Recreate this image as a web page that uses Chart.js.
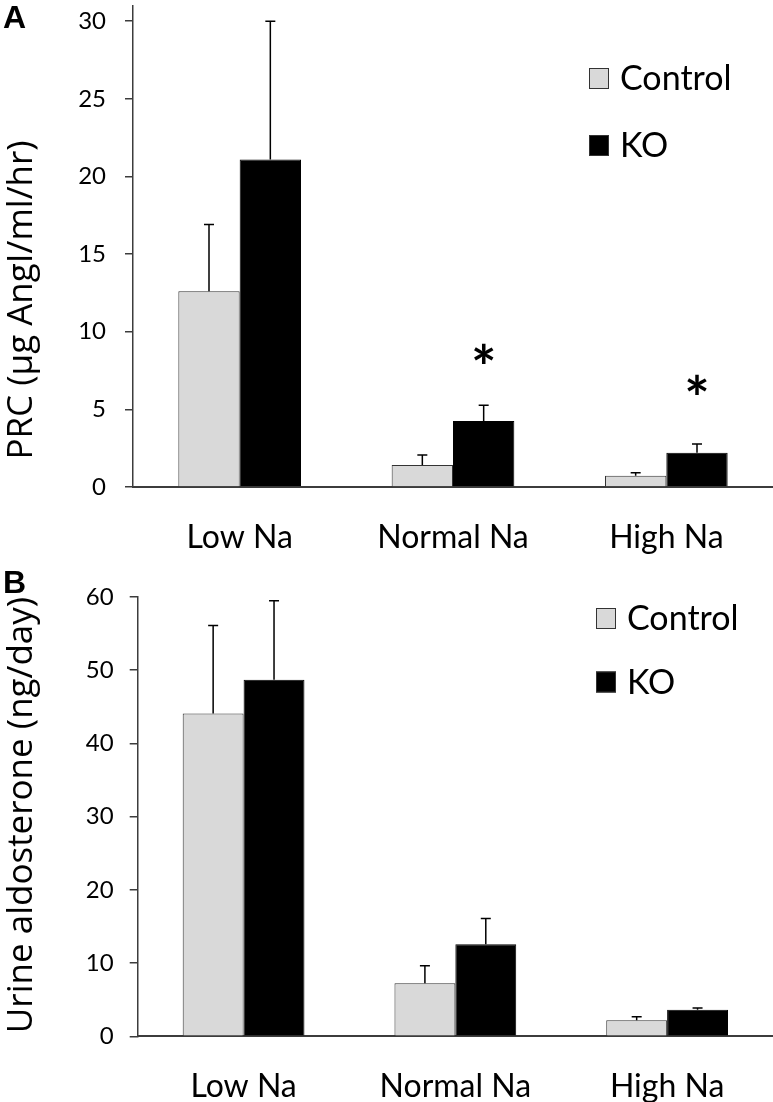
<!DOCTYPE html>
<html><head><meta charset="utf-8">
<script src="https://cdn.jsdelivr.net/npm/chart.js@4/dist/chart.umd.min.js"></script>
<style>
html,body{margin:0;padding:0;background:#fff;width:773px;height:1102px;overflow:hidden}
.panel{position:absolute;left:0;width:773px}
#wa{top:0;height:560px}
#wb{top:560px;height:542px}
</style></head><body>
<div class="panel" id="wa"><canvas id="ca"></canvas></div>
<div class="panel" id="wb"><canvas id="cb"></canvas></div>
<script>
// ---- data ----
const categories = ['Low Na', 'Normal Na', 'High Na'];
const seriesNames = ['Control', 'KO'];

const prcTitle = 'PRC (\u00b5g AngI/ml/hr)';
const prcTicks = [0, 5, 10, 15, 20, 25, 30];
const prcControl = [12.6, 1.42, 0.72];
const prcControlErr = [4.3, 0.64, 0.2];
const prcKO = [21.1, 4.25, 2.21];
const prcKOErr = [8.9, 1.01, 0.56];
const prcSignificant = [false, true, true];

const aldoTitle = 'Urine aldosterone (ng/day)';
const aldoTicks = [0, 10, 20, 30, 40, 50, 60];
const aldoControl = [44.1, 7.24, 2.19];
const aldoControlErr = [12.0, 2.41, 0.49];
const aldoKO = [48.7, 12.57, 3.64];
const aldoKOErr = [10.8, 3.53, 0.23];
const aldoSignificant = [false, false, false];

const controlColor = '#d9d9d9';
const koColor = '#000000';
const axisColor = '#3c3c3c';

const decor = {
  id: 'decor',
  afterDatasetsDraw(chart, args, o) {
    const ctx = chart.ctx;
    const ys = chart.scales.y;
    ctx.save();
    ctx.strokeStyle = '#000';
    ctx.lineWidth = 1.5;
    chart.data.datasets.forEach((ds, di) => {
      const meta = chart.getDatasetMeta(di);
      meta.data.forEach((bar, i) => {
        const b = ys.getPixelForValue(ds.data[i]);
        const t = ys.getPixelForValue(ds.data[i] + ds.errors[i]);
        ctx.beginPath();
        ctx.moveTo(bar.x, b); ctx.lineTo(bar.x, t);
        ctx.moveTo(bar.x - 5, t); ctx.lineTo(bar.x + 5, t);
        ctx.stroke();
      });
    });
    // significance asterisks above KO bars
    const koMeta = chart.getDatasetMeta(1);
    ctx.fillStyle = '#000';
    ctx.font = '700 60px Lato';
    ctx.textAlign = 'center';
    ctx.textBaseline = 'alphabetic';
    const m = ctx.measureText('*');
    const off = (m.actualBoundingBoxAscent - m.actualBoundingBoxDescent) / 2;
    o.sig.forEach((s, i) => {
      if (!s) return;
      const bar = koMeta.data[i];
      ctx.fillText('*', bar.x, bar.y - 68 + off);
    });
    ctx.restore();
  },
  afterDraw(chart, args, o) {
    const ctx = chart.ctx;
    ctx.save();
    // panel letter
    ctx.fillStyle = '#000';
    ctx.font = 'bold 32px "Liberation Sans", Arial';
    ctx.textAlign = 'left';
    ctx.textBaseline = 'alphabetic';
    ctx.fillText(o.letter, 3, o.letterY);
    // axis title
    ctx.save();
    ctx.translate(32, o.titleY);
    ctx.rotate(-Math.PI / 2);
    ctx.font = '35px "Open Sans"';
    ctx.textAlign = 'center';
    ctx.fillText(o.title, 0, 0);
    ctx.restore();
    // legend
    chart.data.datasets.forEach((ds, di) => {
      const by = o.legendY + di * o.legendGap;
      ctx.fillStyle = ds.backgroundColor;
      ctx.fillRect(o.legendX, by, 20, 21);
      ctx.strokeStyle = '#333';
      ctx.lineWidth = 1;
      ctx.strokeRect(o.legendX + 0.5, by + 0.5, 19, 20);
      ctx.fillStyle = '#000';
      ctx.font = '34px Lato';
      ctx.textAlign = 'left';
      ctx.fillText(ds.label, o.legendX + 31, by + 22);
    });
    ctx.restore();
  }
};

function makeChart(id, cfg) {
  return new Chart(document.getElementById(id), {
    type: 'bar',
    data: {
      labels: categories,
      datasets: [
        { label: seriesNames[0], data: cfg.control, errors: cfg.controlErr,
          backgroundColor: controlColor, borderColor: '#333', borderWidth: 1,
          categoryPercentage: 0.575, barPercentage: 1.0 },
        { label: seriesNames[1], data: cfg.ko, errors: cfg.koErr,
          backgroundColor: koColor, borderColor: '#000', borderWidth: 1,
          categoryPercentage: 0.575, barPercentage: 1.0 }
      ]
    },
    options: {
      responsive: true, maintainAspectRatio: false, animation: false,
      devicePixelRatio: 1,
      layout: { padding: { top: cfg.padTop, left: 0, right: 0, bottom: 0 } },
      plugins: {
        legend: { display: false }, tooltip: { enabled: false },
        decor: { sig: cfg.sig, letter: cfg.letter, letterY: cfg.letterY,
                 title: cfg.title, titleY: cfg.titleY,
                 legendX: cfg.legendX, legendY: cfg.legendY, legendGap: cfg.legendGap }
      },
      scales: {
        x: {
          grid: { display: true, drawOnChartArea: false, drawTicks: false },
          border: { display: true, color: axisColor, width: 2 },
          ticks: { color: '#000', font: { family: 'Lato', size: 32 }, padding: 31, maxRotation: 0 },
          afterFit(s) { s.height = cfg.xHeight; s.paddingLeft = 0; s.paddingRight = 0; }
        },
        y: {
          min: 0, max: cfg.max,
          afterBuildTicks(s) { s.ticks = cfg.ticks.map(v => ({ value: v })); },
          grid: { display: true, drawOnChartArea: false, drawTicks: true, tickLength: 8,
                  color: axisColor, lineWidth: 1.5 },
          border: { display: true, color: axisColor, width: 1.5 },
          ticks: { color: '#000', font: { family: 'Lato', size: 24 }, padding: cfg.tickPad },
          afterFit(s) { s.width = cfg.yWidth; s.paddingTop = 0; s.paddingBottom = 0; }
        }
      }
    },
    plugins: [decor]
  });
}

makeChart('ca', {
  control: prcControl, controlErr: prcControlErr, ko: prcKO, koErr: prcKOErr,
  sig: prcSignificant, ticks: prcTicks, max: 31, title: prcTitle,
  letter: 'A', letterY: 28, titleY: 300, padTop: 5.7, xHeight: 73, yWidth: 133, tickPad: 19,
  legendX: 589, legendY: 68, legendGap: 67
});
makeChart('cb', {
  control: aldoControl, controlErr: aldoControlErr, ko: aldoKO, koErr: aldoKOErr,
  sig: aldoSignificant, ticks: aldoTicks, max: 60, title: aldoTitle,
  letter: 'B', letterY: 33, titleY: 255, padTop: 37, xHeight: 65.7, yWidth: 137.7, tickPad: 16,
  legendX: 596, legendY: 48, legendGap: 63.5
});
</script>
</body></html>
